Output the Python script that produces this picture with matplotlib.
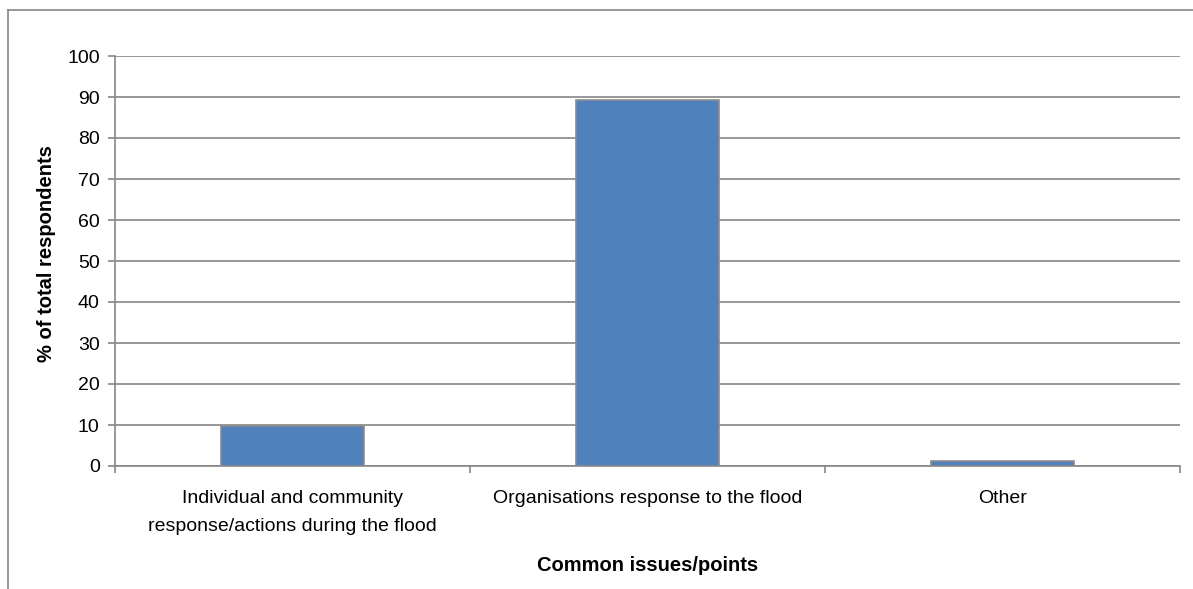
import matplotlib.pyplot as plt
from matplotlib.lines import Line2D

categories = ['Individual and community\nresponse/actions during the flood',
              'Organisations response to the flood',
              'Other']
values = [9.7, 89.2, 1.2]
yticks = list(range(0, 101, 10))

plt.rcParams['font.family'] = ['Liberation Sans', 'DejaVu Sans']

fig = plt.figure(figsize=(11.93, 5.89), dpi=100)
W, H = 1193, 589
ax = fig.add_axes([115 / W, 1 - 466 / H, (1180 - 115) / W, (466 - 56) / H])

grey = '#868686'
x = list(range(len(categories)))
ax.bar(x, values, width=0.405, color='#4F81BD', edgecolor='#8C8C8C', linewidth=1.2, zorder=3)

ax.set_xlim(-0.5, len(categories) - 0.5)
ax.set_ylim(0, 100)
ax.set_yticks(yticks)
ax.yaxis.grid(True, color=grey, linewidth=1.2, zorder=0)
ax.set_axisbelow(True)

ax.set_xticks([i - 0.5 for i in range(len(categories) + 1)], minor=False)
ax.set_xticklabels([])
ax.set_xticks(x, minor=True)
ax.set_xticklabels(categories, minor=True, fontsize=14, linespacing=1.8)
ax.tick_params(axis='x', which='minor', length=0, pad=17.5)
ax.tick_params(axis='x', which='major', length=5, color=grey, width=1.2, direction='out')
ax.tick_params(axis='y', length=5, color=grey, width=1.2, labelsize=14, pad=6)

for side in ['top', 'right']:
    ax.spines[side].set_visible(False)
for side in ['left', 'bottom']:
    ax.spines[side].set_color(grey)
    ax.spines[side].set_linewidth(1.2)

ax.set_ylabel('% of total respondents', fontsize=14.5, fontweight='bold')
ax.yaxis.set_label_coords(-0.055, 0.517)
ax.set_xlabel('Common issues/points', fontsize=14.5, fontweight='bold', labelpad=15)

# outer chart frame
fig.add_artist(Line2D([8 / W, 8 / W], [0, 1 - 10 / H], color=grey, linewidth=1.2))
fig.add_artist(Line2D([8 / W, 1], [1 - 10 / H, 1 - 10 / H], color=grey, linewidth=1.2))

fig.savefig('out.png', dpi=100)
